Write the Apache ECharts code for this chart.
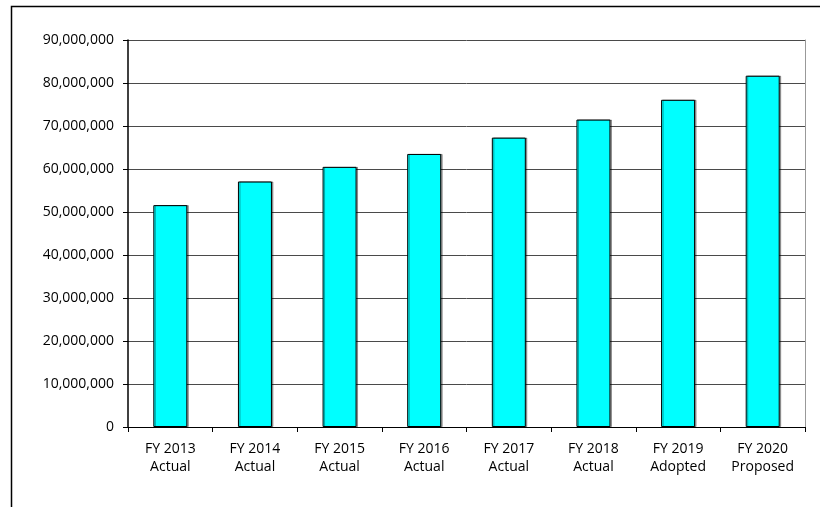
<!DOCTYPE html>
<html>
<head>
<meta charset="utf-8">
<script src="https://cdn.jsdelivr.net/npm/echarts@6/dist/echarts.min.js"></script>
<style>
html,body{margin:0;padding:0;background:#fff;}
#chart{width:820px;height:507px;}
</style>
</head>
<body>
<div id="chart"></div>
<script>
const categories = ["FY 2013\nActual","FY 2014\nActual","FY 2015\nActual","FY 2016\nActual","FY 2017\nActual","FY 2018\nActual","FY 2019\nAdopted","FY 2020\nProposed"];
const values = [51600000, 57100000, 60500000, 63500000, 67300000, 71500000, 76100000, 81700000];
const yMin = 0, yMax = 90000000, yInterval = 10000000;

const chart = echarts.init(document.getElementById('chart'), null, {renderer:'canvas'});
const font = '"Open Sans", sans-serif';
chart.setOption({
  animation: false,
  backgroundColor: '#fff',
  graphic: [{
    type: 'rect', left: 9, top: 4, z: -1,
    shape: {width: 900, height: 600},
    style: {fill: 'none', stroke: '#000', lineWidth: 1.5}
  }],
  grid: {left: 128, right: 15, top: 40, bottom: 80},
  xAxis: {
    type: 'category',
    data: categories,
    axisLine: {lineStyle: {color: '#000', width: 1}},
    axisTick: {show: true, alignWithLabel: false, length: 5, lineStyle: {color: '#000'}},
    axisLabel: {color: '#000', fontFamily: font, fontSize: 14, lineHeight: 18, margin: 13, interval: 0}
  },
  yAxis: [{
    type: 'value', min: yMin, max: yMax, interval: yInterval,
    axisLine: {show: true, lineStyle: {color: '#000', width: 1.5}},
    axisTick: {show: true, length: 5, lineStyle: {color: '#000'}},
    splitLine: {show: true, lineStyle: {color: '#4a4a4a', width: 1}},
    axisLabel: {color: '#000', fontFamily: font, fontSize: 14, margin: 14,
      formatter: v => v.toLocaleString('en-US')}
  },{
    type: 'value', min: yMin, max: yMax, interval: yInterval, position: 'right',
    axisLine: {show: true, lineStyle: {color: '#999', width: 1}},
    axisTick: {show: false}, axisLabel: {show: false}, splitLine: {show: false}
  }],
  series: [{
    type: 'bar',
    data: values,
    barWidth: 34,
    itemStyle: {color: '#00FFFF', borderColor: '#000', borderWidth: 1,
      shadowColor: 'rgba(0,0,0,0.35)', shadowOffsetX: 1.5, shadowOffsetY: 0, shadowBlur: 0}
  }]
});
</script>
</body>
</html>
